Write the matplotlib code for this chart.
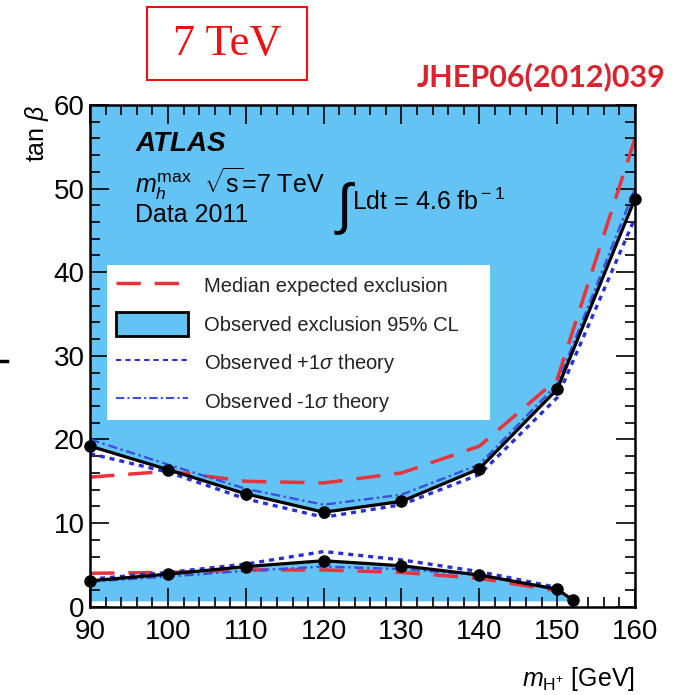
import numpy as np
import matplotlib.pyplot as plt
from matplotlib.lines import Line2D
from matplotlib.patches import Patch, Rectangle
from matplotlib.ticker import MultipleLocator

plt.rcParams['font.family'] = ['Liberation Sans', 'DejaVu Sans']
plt.rcParams['mathtext.fontset'] = 'custom'
plt.rcParams['mathtext.rm'] = 'Liberation Sans'
plt.rcParams['mathtext.it'] = 'Liberation Sans:italic'

# tan(beta) exclusion limits vs m_H+ (GeV)
mass_up = [90, 100, 110, 120, 130, 140, 150, 160]
obs_up = [19.2, 16.4, 13.5, 11.3, 12.6, 16.5, 26.0, 48.8]
exp_up = [15.5, 16.2, 15.0, 14.8, 16.0, 19.2, 27.2, 56.0]
plus_up = [18.3, 16.1, 12.9, 10.7, 12.2, 15.8, 25.0, 46.5]
minus_up = [20.0, 17.0, 14.1, 12.2, 13.4, 17.0, 26.6, 50.0]

mass_lo = [90, 100, 110, 120, 130, 140, 150, 152]
obs_lo = [3.1, 3.9, 4.8, 5.5, 4.9, 3.8, 2.1, 0.8]
exp_lo = [4.0, 4.1, 4.4, 4.4, 4.1, 3.4, 1.9]
plus_lo = [3.3, 4.1, 5.1, 6.6, 5.6, 4.2, 2.3]
minus_lo = [3.0, 3.6, 4.3, 4.8, 4.5, 3.8, 2.0]

fill_c = '#63c3f4'
red = '#e8333c'
blue = '#2a2fd0'
blue2 = '#3b4fe0'

fig = plt.figure(figsize=(6.88, 6.95), dpi=100)
ax = fig.add_axes([0.131, 0.127, 0.792, 0.722])

ax.fill_between(mass_up, obs_up, 60, color=fill_c, lw=0)
ax.fill_between(mass_lo, 0.7, obs_lo, color=fill_c, lw=0)

ax.plot(mass_up, exp_up, color=red, lw=2.5, dashes=(7, 4))
ax.plot(mass_lo[:-1], exp_lo, color=red, lw=2.5, dashes=(7, 4))
ax.plot(mass_up, plus_up, color=blue, lw=2.4, dashes=(1.5, 1.5))
ax.plot(mass_lo[:-1], plus_lo, color=blue, lw=2.4, dashes=(1.5, 1.5))
ax.plot(mass_up, minus_up, color=blue2, lw=1.7, dashes=(4, 1.5, 1, 1.5))
ax.plot(mass_lo[:-1], minus_lo, color=blue2, lw=1.7, dashes=(4, 1.5, 1, 1.5))
ax.plot(mass_up, obs_up, color='black', lw=2.3, marker='o', ms=8, clip_on=False, zorder=5)
ax.plot(mass_lo, obs_lo, color='black', lw=2.3, marker='o', ms=8, clip_on=False, zorder=5)

ax.set_xlim(90, 160)
ax.set_ylim(0, 60)
ax.xaxis.set_major_locator(MultipleLocator(10))
ax.xaxis.set_minor_locator(MultipleLocator(2))
ax.yaxis.set_major_locator(MultipleLocator(10))
ax.yaxis.set_minor_locator(MultipleLocator(2))
ax.tick_params(which='both', direction='in', top=True, right=True, labelsize=20, width=1.2)
ax.tick_params(which='major', length=14)
ax.tick_params(which='minor', length=7)
ax.tick_params(axis='x', pad=9)
ax.tick_params(axis='y', pad=4)
for s in ax.spines.values():
    s.set_linewidth(1.8)

ax.set_ylabel(r'tan $\beta$', fontsize=18, rotation=90, loc='top', labelpad=2)
ax.set_xlabel(r'$m_{\rm H^{+}}$ [GeV]', fontsize=18, loc='right', labelpad=14)

ax.text(95.8, 55.3, 'ATLAS', fontsize=20, fontweight='bold', style='italic', va='center')
ax.text(95.8, 50.6, r'$m_h^{\rm max}$  $\sqrt{\rm s}$=7 TeV', fontsize=18, va='center')
ax.text(95.8, 46.9, 'Data 2011', fontsize=18, va='center')
ax.text(121.3, 47.6, r'$\int$', fontsize=40, va='center')
ax.text(123.6, 48.4, r'Ldt = 4.6 fb$^{\rm -1}$', fontsize=18, va='center')

# white legend panel
ax.add_patch(Rectangle((0.031, 0.372), 0.703, 0.309, transform=ax.transAxes,
                       facecolor='white', edgecolor='none', zorder=6))
handles = [
    Line2D([], [], color=red, lw=2.5, dashes=(7, 4)),
    Patch(facecolor=fill_c, edgecolor='black', lw=2),
    Line2D([], [], color=blue, lw=1.5, dashes=(2.5, 2)),
    Line2D([], [], color=blue2, lw=1.5, dashes=(4, 1.5, 1, 1.5)),
]
labels = ['Median expected exclusion', 'Observed exclusion 95% CL',
          r'Observed +1$\sigma$ theory', r'Observed -1$\sigma$ theory']
leg = ax.legend(handles, labels, loc='upper left', bbox_to_anchor=(0.036, 0.676),
                fontsize=14.5, frameon=False, handlelength=3.6, handleheight=1.5,
                labelspacing=0.68, borderpad=0.3, handletextpad=0.8,
                borderaxespad=0)
leg.set_zorder(7)
for t in leg.get_texts():
    t.set_color('#222222')

# header annotations
fig.patches.append(Rectangle((0.214, 0.885), 0.232, 0.105, transform=fig.transFigure,
                             fill=False, edgecolor='#ee1111', lw=1.5))
fig.text(0.330, 0.937, '7 TeV', fontsize=32, color='#ee1111', family='Liberation Serif',
         ha='center', va='center')
fig.text(0.967, 0.890, 'JHEP06(2012)039', fontsize=22, color='#d9232e', fontweight='bold',
         family='Lato', ha='right', va='center')
fig.lines.append(Line2D([0.002, 0.010], [0.481, 0.481], transform=fig.transFigure,
                        color='black', lw=2.5))

fig.savefig('out.png', dpi=100)
